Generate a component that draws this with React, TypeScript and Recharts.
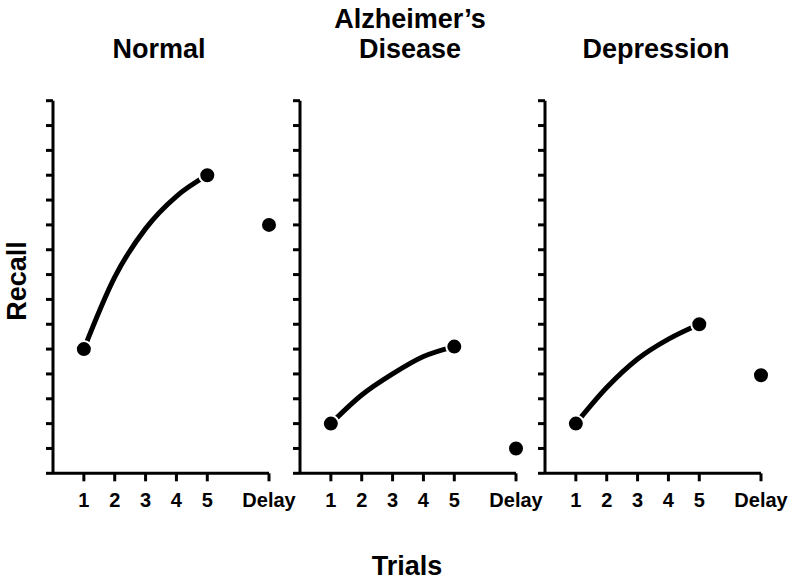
import { ComposedChart, Line, Scatter, XAxis, YAxis } from 'recharts'

const FONT = '"Liberation Sans", Arial, sans-serif'

// x positions: trials 1..5, delayed recall drawn at 7
const trials = [1, 2, 3, 4, 5]
const delayTrial = 7
const xTicks = [1, 2, 3, 4, 5, 7]
const recallTicks = [0, 1, 2, 3, 4, 5, 6, 7, 8, 9, 10, 11, 12, 13, 14, 15]

// recall at each trial
const normalCurve = [5, 7.9, 9.85, 11.15, 12]
const alzheimerCurve = [2, 3.15, 4.0, 4.7, 5.1]
const depressionCurve = [2, 3.45, 4.6, 5.4, 6]

const normalDelay = 10
const alzheimerDelay = 1
const depressionDelay = 3.95

const Dot = (props: any) => {
  const { cx, cy } = props
  return <circle cx={cx} cy={cy} r={8} fill="#000" stroke="#fff" strokeWidth={2} />
}

// y axis keeps its tick marks but shows no numbers
const NoLabel = () => <g />

interface PanelProps {
  curve: number[]
  delay: number
  left: number
}

function Panel({ curve, delay, left }: PanelProps) {
  const lineData = trials.map((t, i) => ({ trial: t, recall: curve[i] }))
  const markers = [
    { trial: trials[0], recall: curve[0] },
    { trial: trials[trials.length - 1], recall: curve[curve.length - 1] },
    { trial: delayTrial, recall: delay },
  ]

  return (
    <div style={{ position: 'absolute', left: left - 20, top: 0 }}>
      <ComposedChart
        width={280}
        height={584}
        margin={{ top: 100.7, right: 44, bottom: 70.7, left: 10 }}
      >
        <XAxis
          dataKey="trial"
          type="number"
          domain={[0, 7]}
          ticks={xTicks}
          height={40}
          tickSize={8}
          tickMargin={11}
          interval={0}
          fontSize={20}
          fontWeight={700}
          tickFormatter={(v) => (v === delayTrial ? 'Delay' : String(v))}
          axisLine={{ stroke: '#000', strokeWidth: 3 }}
          tickLine={{ stroke: '#000', strokeWidth: 3 }}
          tick={{ fill: '#000', fontSize: 20, fontWeight: 700, fontFamily: FONT }}
        />
        <YAxis
          dataKey="recall"
          type="number"
          domain={[0, 15]}
          ticks={recallTicks}
          width={10}
          tickSize={7}
          interval={0}
          tick={NoLabel}
          axisLine={{ stroke: '#000', strokeWidth: 3 }}
          tickLine={{ stroke: '#000', strokeWidth: 3 }}
        />
        <Line
          data={lineData}
          dataKey="recall"
          type="monotone"
          stroke="#000"
          strokeWidth={5}
          dot={false}
          activeDot={false}
          isAnimationActive={false}
        />
        <Scatter
          data={markers}
          dataKey="recall"
          fill="#000"
          shape={Dot}
          isAnimationActive={false}
        />
      </ComposedChart>
    </div>
  )
}

export default function App() {
  const titleStyle = { fontFamily: FONT, fontWeight: 700, fontSize: 27, fill: '#000' }
  return (
    <div style={{ position: 'absolute', left: 0, top: 0, width: 800, height: 584, background: '#fff' }}>
      <Panel curve={normalCurve} delay={normalDelay} left={53} />
      <Panel curve={alzheimerCurve} delay={alzheimerDelay} left={300} />
      <Panel curve={depressionCurve} delay={depressionDelay} left={545} />
      <svg
        width={800}
        height={584}
        style={{ position: 'absolute', left: 0, top: 0, pointerEvents: 'none' }}
      >
        <text x={159} y={58} textAnchor="middle" {...titleStyle}>Normal</text>
        <text x={410} y={28} textAnchor="middle" {...titleStyle}>Alzheimer’s</text>
        <text x={410} y={58} textAnchor="middle" {...titleStyle}>Disease</text>
        <text x={656} y={58} textAnchor="middle" {...titleStyle}>Depression</text>
        <text x={26} y={281} textAnchor="middle" transform="rotate(-90 26 281)" {...titleStyle}>Recall</text>
        <text x={407} y={575} textAnchor="middle" {...titleStyle}>Trials</text>
      </svg>
    </div>
  )
}
